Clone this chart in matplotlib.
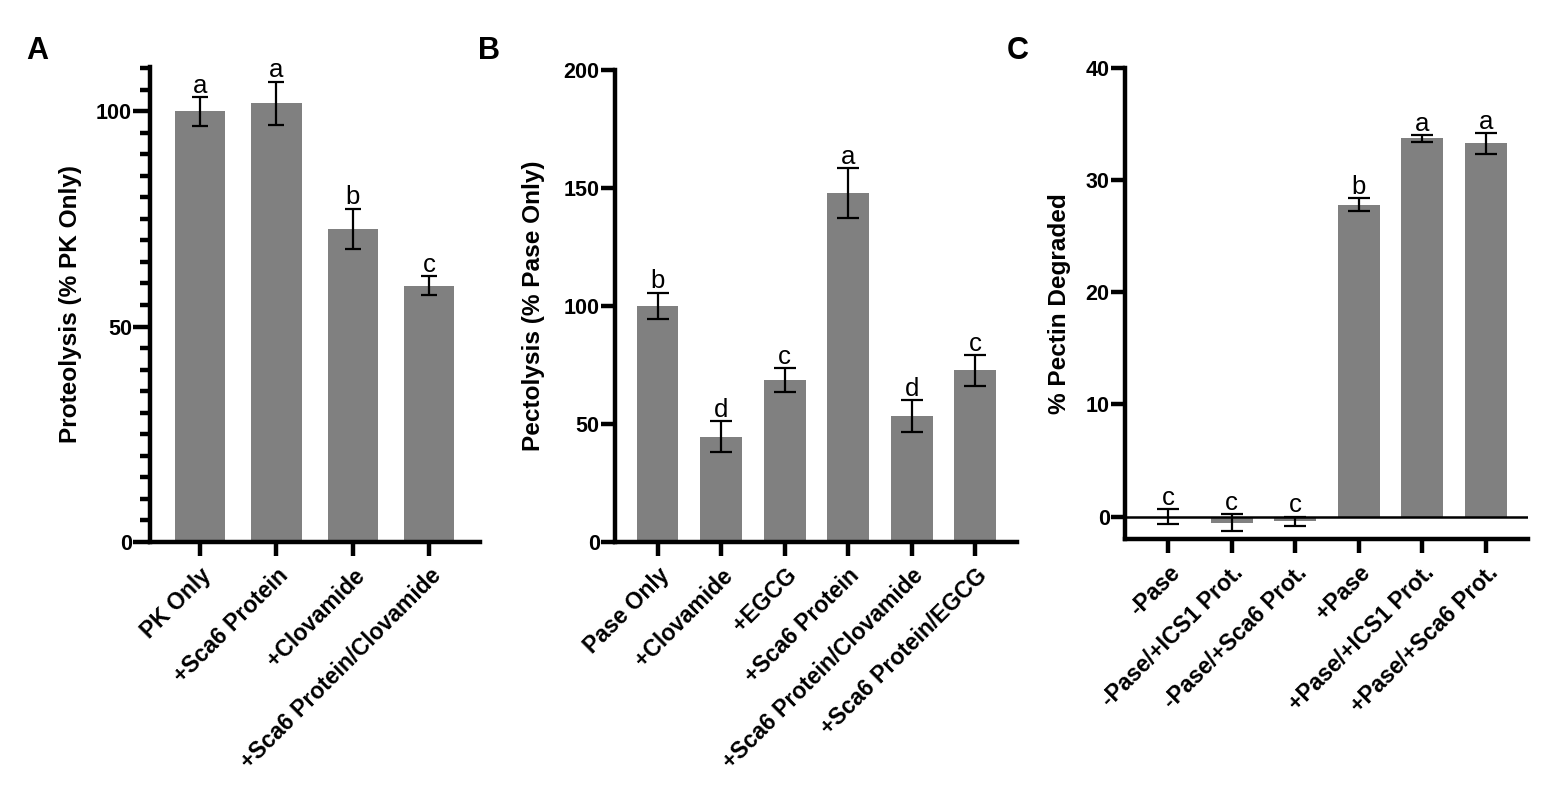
import matplotlib
matplotlib.use("Agg")
import matplotlib.pyplot as plt
from matplotlib.ticker import MultipleLocator

plt.rcParams['font.family'] = ['Liberation Sans', 'DejaVu Sans']

# A: proteolysis
a_labels = ['PK Only', '+Sca6 Protein', '+Clovamide', '+Sca6 Protein/Clovamide']
a_mean = [100, 101.9, 72.7, 59.5]
a_err = [3.3, 5.0, 4.7, 2.2]
a_letters = ['a', 'a', 'b', 'c']

# B: pectolysis
b_labels = ['Pase Only', '+Clovamide', '+EGCG', '+Sca6 Protein',
            '+Sca6 Protein/Clovamide', '+Sca6 Protein/EGCG']
b_mean = [100, 44.5, 68.5, 147.8, 53.2, 72.6]
b_err = [5.6, 6.5, 5.2, 10.6, 6.7, 6.4]
b_letters = ['b', 'd', 'c', 'a', 'd', 'c']

# C: pectin degraded
c_labels = ['-Pase', '-Pase/+ICS1 Prot.', '-Pase/+Sca6 Prot.', '+Pase',
            '+Pase/+ICS1 Prot.', '+Pase/+Sca6 Prot.']
c_mean = [0.0, -0.55, -0.4, 27.8, 33.7, 33.25]
c_err = [0.65, 0.75, 0.4, 0.6, 0.3, 0.9]
c_letters = ['c', 'c', 'c', 'b', 'a', 'a']

BAR = '#808080'
SPINE_W = 3.2


def draw_panel(ax, labels, mean, err, letters, ylabel, ylim, yticks, xlim, capsize):
    x = list(range(len(labels)))
    ax.bar(x, mean, width=0.66, color=BAR, zorder=2)
    ax.errorbar(x, mean, yerr=err, fmt='none', ecolor='black',
                elinewidth=1.6, capsize=capsize, capthick=1.6, zorder=3)
    for xi, m, e, let in zip(x, mean, err, letters):
        ax.annotate(let, (xi, m + e), xytext=(0, 3), textcoords='offset points',
                    ha='center', va='baseline', fontsize=18.5)
    ax.set_xlim(*xlim)
    ax.set_ylim(*ylim)
    ax.set_yticks(yticks)
    ax.set_xticks(x)
    ax.set_xticklabels(labels, rotation=45, ha='right', rotation_mode='anchor',
                       fontsize=16.5, fontweight='bold')
    for t in ax.get_yticklabels():
        t.set_fontsize(15.5)
        t.set_fontweight('bold')
    ax.set_ylabel(ylabel, fontsize=17.6, fontweight='bold')
    for s in ['top', 'right']:
        ax.spines[s].set_visible(False)
    for s in ['left', 'bottom']:
        ax.spines[s].set_linewidth(SPINE_W)
    ax.tick_params(axis='both', which='major', length=10, width=SPINE_W, pad=3)
    ax.tick_params(axis='y', which='major', pad=1)
    ax.tick_params(axis='x', which='major', pad=6)


fig = plt.figure(figsize=(15.62, 7.92), dpi=100)

axA = fig.add_axes([0.0960, 0.3160, 0.2113, 0.5994])
draw_panel(axA, a_labels, a_mean, a_err, a_letters, 'Proteolysis (% PK Only)',
           (0, 110.3), [0, 50, 100], (-0.654, 3.664), 6)
axA.yaxis.set_minor_locator(MultipleLocator(5))
axA.tick_params(axis='y', which='minor', length=7, width=SPINE_W)
axA.tick_params(axis='y', which='major', length=12)
axA.yaxis.set_label_coords(-0.205, 0.5)

axB = fig.add_axes([0.3937, 0.3160, 0.2574, 0.5956])
draw_panel(axB, b_labels, b_mean, b_err, b_letters, 'Pectolysis (% Pase Only)',
           (0, 200), [0, 50, 100, 150, 200], (-0.67, 5.66), 8)
axB.yaxis.set_label_coords(-0.175, 0.5)

axC = fig.add_axes([0.7202, 0.3194, 0.2580, 0.5951])
draw_panel(axC, c_labels, c_mean, c_err, c_letters, '% Pectin Degraded',
           (-2, 40), [0, 10, 20, 30, 40], (-0.676, 5.66), 8)
axC.axhline(0, color='black', lw=1.8, zorder=4)
axC.yaxis.set_label_coords(-0.135, 0.5)

fig.text(0.0170, 0.955, 'A', fontsize=22, fontweight='bold', va='top', ha='left')
fig.text(0.3060, 0.955, 'B', fontsize=22, fontweight='bold', va='top', ha='left')
fig.text(0.6447, 0.955, 'C', fontsize=22, fontweight='bold', va='top', ha='left')

fig.savefig('out.png', dpi=100, facecolor='white')
